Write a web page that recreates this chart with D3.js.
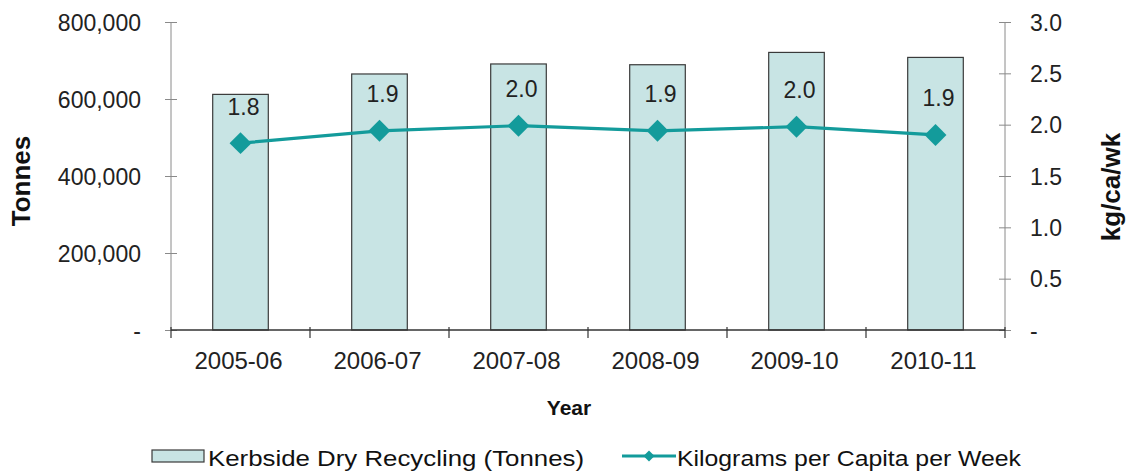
<!DOCTYPE html>
<html><head><meta charset="utf-8">
<script src="https://cdn.jsdelivr.net/npm/d3@7"></script>
<style>
html,body{margin:0;padding:0;background:#fff;}
svg{display:block;font-family:"Liberation Sans",Arial,sans-serif;}
</style></head>
<body><svg id="c" width="1126" height="473"></svg>
<script>
const years = ["2005-06","2006-07","2007-08","2008-09","2009-10","2010-11"];
const tonnes = [612000, 665000, 691000, 689000, 721000, 708000];
const kgPerCapita = [1.82, 1.94, 1.99, 1.94, 1.98, 1.90];
const leftTicks = [0, 200000, 400000, 600000, 800000];
const rightTicks = [0, 0.5, 1.0, 1.5, 2.0, 2.5, 3.0];
const seriesNames = ["Kerbside Dry Recycling (Tonnes)", "Kilograms per Capita per Week"];

const svg = d3.select("#c");
const L = 171, R = 1005, T = 22, B = 330;
const barFill = "#c8e4e4", barStroke = "#3a3a3a", teal = "#139b9b";

const x = d3.scaleBand().domain(years).range([L, R]).paddingInner(0.6).paddingOuter(0.3);
const step = x.step();
const yL = d3.scaleLinear().domain([0, 800000]).range([B, T]);
const yR = d3.scaleLinear().domain([0, 3]).range([B, T]);

// bars
svg.append("g").selectAll("rect").data(years).join("rect")
  .attr("x", d => x(d)).attr("y", (d,i) => yL(tonnes[i]))
  .attr("width", x.bandwidth()).attr("height", (d,i) => B - yL(tonnes[i]))
  .attr("fill", barFill).attr("stroke", barStroke).attr("stroke-width", 1.2);

// left axis
const fmtL = v => v === 0 ? "-" : d3.format(",")(v);
const gL = svg.append("g").attr("transform", `translate(${L},0)`)
  .call(d3.axisLeft(yL).tickValues(leftTicks).tickFormat(fmtL).tickSize(6).tickPadding(24));
gL.select(".domain").attr("stroke", "#8a8a8a").attr("d", `M0,${T}V${B}`);
gL.selectAll(".tick line").attr("stroke", "#8a8a8a").attr("x1", 6).attr("x2", -6);
gL.selectAll(".tick text").attr("fill", "#222").style("font-size", "23px").attr("dy", "0.36em");

// right axis
const fmtR = v => v === 0 ? "-" : d3.format(".1f")(v);
const gR = svg.append("g").attr("transform", `translate(${R},0)`)
  .call(d3.axisRight(yR).tickValues(rightTicks).tickFormat(fmtR).tickSize(6).tickPadding(19));
gR.select(".domain").attr("stroke", "#8a8a8a").attr("d", `M0,${T}V${B}`);
gR.selectAll(".tick line").attr("stroke", "#8a8a8a").attr("x1", -6).attr("x2", 6);
gR.selectAll(".tick text").attr("fill", "#222").style("font-size", "23px").attr("dy", "0.36em");

// x axis
const gX = svg.append("g").attr("transform", `translate(0,${B})`)
  .call(d3.axisBottom(x).tickSize(0).tickPadding(22));
gX.select(".domain").attr("stroke", "#333").attr("stroke-width", 1.3).attr("d", `M${L},0H${R}`);
gX.selectAll(".tick text").attr("fill", "#222").style("font-size", "24px").attr("dy", "0.71em")
  .attr("transform", "translate(-2,0)");
const bounds = years.map(d => x(d) - (step - x.bandwidth())/2).concat([R]);
gX.append("g").selectAll("line").data(bounds).join("line")
  .attr("x1", d => d).attr("x2", d => d).attr("y1", -3).attr("y2", 8)
  .attr("stroke", "#333").attr("stroke-width", 1.2);

// line series
const cx = d => x(d) + x.bandwidth()/2;
const line = d3.line().x((d,i) => cx(years[i])).y(d => yR(d));
svg.append("path").datum(kgPerCapita).attr("d", line)
  .attr("fill", "none").attr("stroke", teal).attr("stroke-width", 3.2);
const diamond = d3.symbol().type(d3.symbolSquare).size(240);
svg.append("g").selectAll("path").data(kgPerCapita).join("path")
  .attr("d", diamond)
  .attr("transform", (d,i) => `translate(${cx(years[i])},${yR(d)}) rotate(45)`)
  .attr("fill", teal);

// data labels
svg.append("g").selectAll("text").data(kgPerCapita).join("text")
  .attr("x", (d,i) => cx(years[i]) + 3).attr("y", d => yR(d) - 28.5)
  .attr("text-anchor", "middle").attr("fill", "#222").style("font-size", "23px")
  .text(d => d3.format(".1f")(d));

// axis titles
svg.append("text").attr("transform", "translate(30,181) rotate(-90)")
  .attr("text-anchor", "middle").style("font-size", "26px").style("font-weight", "bold")
  .attr("fill", "#111").text("Tonnes");
svg.append("text").attr("transform", "translate(1120,187) rotate(-90)")
  .attr("text-anchor", "middle").style("font-size", "26px").style("font-weight", "bold")
  .attr("fill", "#111").text("kg/ca/wk");
svg.append("text").attr("x", 569).attr("y", 415)
  .attr("text-anchor", "middle").style("font-size", "21px").style("font-weight", "bold")
  .attr("fill", "#111").text("Year");

// legend
const lg = svg.append("g");
lg.append("rect").attr("x", 152).attr("y", 450).attr("width", 52).attr("height", 12)
  .attr("fill", barFill).attr("stroke", barStroke).attr("stroke-width", 1.2);
lg.append("text").attr("x", 208).attr("y", 466).style("font-size", "22px").attr("fill", "#111")
  .attr("textLength", 376).attr("lengthAdjust", "spacingAndGlyphs").text(seriesNames[0]);
lg.append("line").attr("x1", 622).attr("x2", 676).attr("y1", 456).attr("y2", 456)
  .attr("stroke", teal).attr("stroke-width", 3.2);
lg.append("path").attr("d", d3.symbol().type(d3.symbolSquare).size(60))
  .attr("transform", "translate(649,456) rotate(45)").attr("fill", teal);
lg.append("text").attr("x", 677).attr("y", 466).style("font-size", "22px").attr("fill", "#111")
  .attr("textLength", 344).attr("lengthAdjust", "spacingAndGlyphs").text(seriesNames[1]);
</script></body></html>
